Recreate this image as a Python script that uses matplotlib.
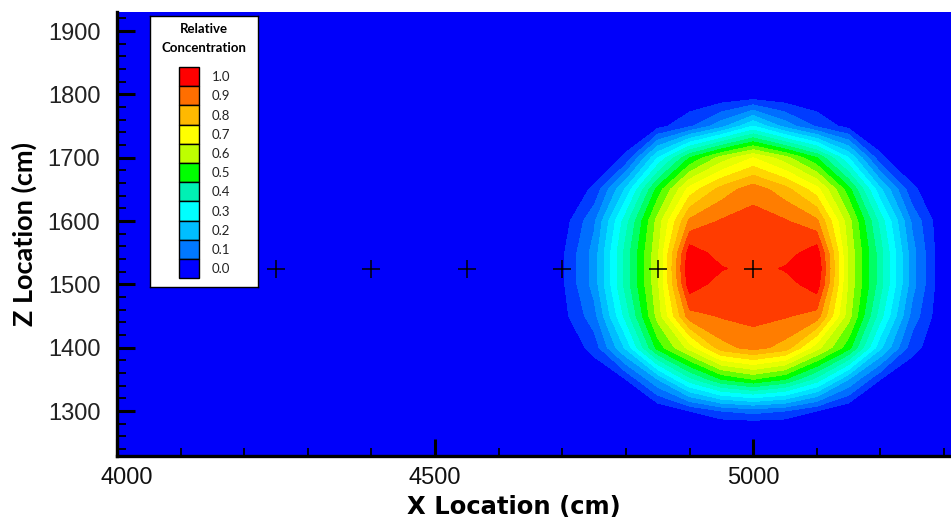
import numpy as np
import matplotlib
matplotlib.use("Agg")
import matplotlib.pyplot as plt
import matplotlib.transforms as mtransforms
from matplotlib.patches import Rectangle
from matplotlib.ticker import MultipleLocator

# ---------------- data ----------------
x_nodes = [4000, 4650, 4700, 4750, 4800, 4850, 4900, 4950, 5000,
           5050, 5100, 5150, 5200, 5250, 5300, 5350, 5400]
z_nodes = [1200, 1250, 1275, 1300, 1350, 1400, 1450, 1500, 1525, 1550,
           1600, 1650, 1700, 1750, 1800, 1850, 1950]

# relative concentration at each (z, x) node (rows = z_nodes, cols = x_nodes)
conc = [
    # 4000 4650 4700  4750  4800  4850  4900   4950   5000   5050   5100   5150  5200  5250  5300 5350 5400
    [0,   0,   0,    0,    0,    0,    0,     0,     0,     0,     0,     0,    0,    0,    0,   0,   0],   # 1200
    [0,   0,   0,    0,    0,    0,    0,     0,     0,     0,     0,     0,    0,    0,    0,   0,   0],   # 1250
    [0,   0,   0,    0,    0,    0,    0,     0,     0,     0,     0,     0,    0,    0,    0,   0,   0],   # 1275
    [0,   0,   0,    0,    0,    0,    0.05,  0.10,  0.12,  0.10,  0.05,  0,    0,    0,    0,   0,   0],   # 1300
    [0,   0,   0,    0,    0.05, 0.20, 0.38,  0.50,  0.55,  0.50,  0.38,  0.20, 0.05, 0,    0,   0,   0],   # 1350
    [0,   0,   0,    0.07, 0.26, 0.52, 0.67,  0.83,  0.87,  0.83,  0.67,  0.52, 0.26, 0.07, 0,   0,   0],   # 1400
    [0,   0,   0.03, 0.13, 0.37, 0.62, 0.88,  0.905, 0.915, 0.905, 0.88,  0.62, 0.37, 0.13, 0,   0,   0],   # 1450
    [0,   0,   0.04, 0.17, 0.42, 0.64, 0.98,  0.925, 0.93,  0.925, 0.98,  0.64, 0.42, 0.17, 0,   0,   0],   # 1500
    [0,   0,   0.04, 0.17, 0.42, 0.64, 1.00,  0.955, 0.93,  0.955, 1.00,  0.64, 0.42, 0.17, 0,   0,   0],   # 1525
    [0,   0,   0.04, 0.17, 0.42, 0.64, 0.98,  0.925, 0.93,  0.925, 0.98,  0.64, 0.42, 0.17, 0,   0,   0],   # 1550
    [0,   0,   0.02, 0.14, 0.38, 0.62, 0.86,  0.905, 0.92,  0.905, 0.86,  0.62, 0.38, 0.14, 0,   0,   0],   # 1600
    [0,   0,   0,    0.06, 0.26, 0.52, 0.72,  0.82,  0.88,  0.82,  0.72,  0.52, 0.26, 0.06, 0,   0,   0],   # 1650
    [0,   0,   0,    0,    0.06, 0.30, 0.50,  0.62,  0.70,  0.62,  0.50,  0.30, 0.06, 0,    0,   0,   0],   # 1700
    [0,   0,   0,    0,    0,    0.03, 0.09,  0.18,  0.30,  0.18,  0.09,  0.03, 0,    0,    0,   0,   0],   # 1750
    [0,   0,   0,    0,    0,    0,    0,     0,     0,     0,     0,     0,    0,    0,    0,   0,   0],   # 1800
    [0,   0,   0,    0,    0,    0,    0,     0,     0,     0,     0,     0,    0,    0,    0,   0,   0],   # 1850
    [0,   0,   0,    0,    0,    0,    0,     0,     0,     0,     0,     0,    0,    0,    0,   0,   0],   # 1950
]

contour_levels = [0.00, 0.05, 0.10, 0.15, 0.20, 0.25, 0.30, 0.35, 0.40, 0.45, 0.50,
                  0.55, 0.60, 0.65, 0.70, 0.75, 0.80, 0.85, 0.90, 0.95, 1.00]
band_colors = ["#0000fa", "#003cff", "#006eff", "#0096ff", "#00beff", "#00e1ff",
               "#00ffff", "#00ffd2", "#00ffaa", "#00ff64", "#00ff00", "#64ff00",
               "#beff00", "#e6ff00", "#ffff00", "#ffd700", "#ffb400", "#ff7d00",
               "#ff3c00", "#ff0000"]

well_x = [4250, 4400, 4550, 4700, 4850, 5000]
well_z = [1525, 1525, 1525, 1525, 1525, 1525]

legend_labels = ["1.0", "0.9", "0.8", "0.7", "0.6", "0.5", "0.4", "0.3", "0.2", "0.1", "0.0"]
legend_colors = ["#ff0000", "#ff6e00", "#ffb900", "#ffff00", "#beff00", "#00ff00",
                 "#00f0b4", "#00ffff", "#00beff", "#0078ff", "#0000ff"]

x_ticks = [4000, 4500, 5000]
y_ticks = [1300, 1400, 1500, 1600, 1700, 1800, 1900]

# ---------------- figure ----------------
W, H = 951, 523
fig = plt.figure(figsize=(W / 100, H / 100), dpi=100)
ax = fig.add_axes([117 / W, 1 - 456 / H, (W - 117) / W, (456 - 12) / H])

ax.contourf(np.array(x_nodes), np.array(z_nodes), np.array(conc),
            levels=contour_levels, colors=band_colors, antialiased=False)
ax.plot(well_x, well_z, linestyle="none", marker="+", color="black",
        markersize=13, markeredgewidth=1.1)

ax.set_xlim(4000, 5311)
ax.set_ylim(1229, 1930)

for s in ["top", "right"]:
    ax.spines[s].set_visible(False)
for s in ["left", "bottom"]:
    ax.spines[s].set_linewidth(2.4)
    ax.spines[s].set_color("black")

ax.set_xticks(x_ticks)
ax.set_yticks(y_ticks)
ax.xaxis.set_minor_locator(MultipleLocator(100))
ax.yaxis.set_minor_locator(MultipleLocator(20))
ax.tick_params(axis="both", which="major", direction="in", width=2.2, color="black")
ax.tick_params(axis="both", which="minor", direction="in", width=1.3, color="black")
ax.tick_params(axis="x", which="major", length=12, pad=8)
ax.tick_params(axis="x", which="minor", length=6)
ax.tick_params(axis="y", which="major", length=13, pad=12)
ax.tick_params(axis="y", which="minor", length=6.5)

for lab in ax.get_yticklabels():
    lab.set_fontfamily(["Liberation Sans", "DejaVu Sans"])
    lab.set_fontsize(17)
    lab.set_color("#222222")
xlabs = ax.get_xticklabels()
for lab in xlabs:
    lab.set_fontfamily(["Liberation Sans", "DejaVu Sans"])
    lab.set_fontsize(17)
    lab.set_color("#111111")
xlabs[0].set_transform(xlabs[0].get_transform() +
                       mtransforms.ScaledTranslation(10 / 100, 0, fig.dpi_scale_trans))

ax.set_xlabel("X Location (cm)", fontsize=17.5, fontweight="bold",
              family=["DejaVu Sans"])
ax.xaxis.set_label_coords((514 - 117) / (W - 117), -0.088)
ax.set_ylabel("Z Location (cm)", fontsize=19.5, fontweight="bold",
              family=["Lato", "DejaVu Sans"], labelpad=8)

# ---------------- legend box ----------------
bx0, by0, bx1, by1 = 150, 16, 258, 287
lax = fig.add_axes([bx0 / W, 1 - by1 / H, (bx1 - bx0) / W, (by1 - by0) / H])
lax.set_xlim(0, bx1 - bx0)
lax.set_ylim(by1 - by0, 0)
lax.set_xticks([])
lax.set_yticks([])
lax.set_facecolor("white")
for s in lax.spines.values():
    s.set_linewidth(1.0)
    s.set_color("black")

lax.text(54, 13, "Relative", ha="center", va="center", fontsize=9.5,
         fontweight="bold", family=["Lato", "DejaVu Sans"])
lax.text(54, 32, "Concentration", ha="center", va="center", fontsize=9.5,
         fontweight="bold", family=["Lato", "DejaVu Sans"])
sw_top, sw_h = 51, 19.2
for i, (lbl, col) in enumerate(zip(legend_labels, legend_colors)):
    y0 = sw_top + i * sw_h
    lax.add_patch(Rectangle((29, y0), 20, sw_h, facecolor=col,
                            edgecolor="black", linewidth=1.0))
    lax.text(62, y0 + sw_h / 2 + 0.5, lbl, ha="left", va="center", fontsize=9.5,
             family=["Lato", "DejaVu Sans"], color="#222222")

fig.savefig("out.png", dpi=100)
